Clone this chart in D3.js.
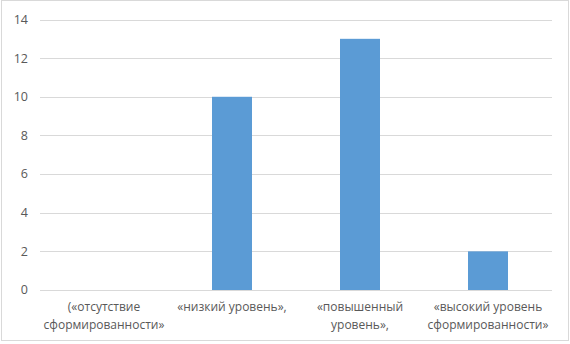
<!DOCTYPE html>
<html><head><meta charset="utf-8">
<script src="https://cdn.jsdelivr.net/npm/d3@7"></script>
<style>body{margin:0;background:#fff;}svg{display:block;}</style>
</head><body>
<svg id="c" width="570" height="344"></svg>
<script>
const categories = [
  ["(«отсутствие", "сформированности»"],
  ["«низкий уровень»,"],
  ["«повышенный", "уровень»,"],
  ["«высокий уровень", "сформированности»"]
];
const values = [0, 10, 13, 2];
const yTicks = [0, 2, 4, 6, 8, 10, 12, 14];

const svg = d3.select("#c");
const font = "'Open Sans', sans-serif";
svg.append("rect").attr("x", 1.5).attr("y", 0.5).attr("width", 567).attr("height", 340)
  .attr("fill", "#fff").attr("stroke", "#d9d9d9");

const x = d3.scaleBand().domain(d3.range(categories.length)).range([40, 552]).paddingInner(0.6875).paddingOuter(0.34375);
const xb = d3.scaleBand().domain(d3.range(categories.length)).range([40, 552]);
const y = d3.scaleLinear().domain([0, 14]).range([290, 19.5]);

const g = svg.append("g");
g.selectAll("line.grid").data(yTicks).join("line")
  .attr("x1", 40).attr("x2", 552)
  .attr("y1", d => Math.round(y(d)) + 0.5).attr("y2", d => Math.round(y(d)) + 0.5)
  .attr("stroke", "#d9d9d9").attr("stroke-width", 1);

g.selectAll("text.yt").data(yTicks).join("text")
  .attr("x", 28).attr("y", d => y(d)).attr("dy", "0.35em")
  .attr("text-anchor", "end").attr("font-family", font).attr("font-size", 12.5)
  .attr("fill", "#595959").text(d => d);

g.selectAll("rect.bar").data(values).join("rect")
  .attr("x", (d, i) => x(i)).attr("width", x.bandwidth())
  .attr("y", d => y(d)).attr("height", d => y(0) - y(d))
  .attr("fill", "#5b9bd5");

categories.forEach((lines, i) => {
  const t = g.append("text").attr("text-anchor", "middle").attr("font-family", font)
    .attr("font-size", 12).attr("fill", "#595959");
  lines.forEach((l, j) => {
    t.append("tspan").attr("x", xb(i) + xb.bandwidth() / 2).attr("y", 311 + j * 18).text(l);
  });
});
</script>
</body></html>
